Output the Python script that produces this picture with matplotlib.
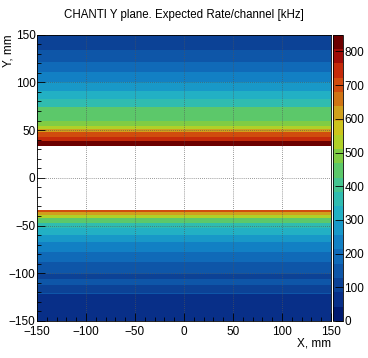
import numpy as np
import matplotlib
matplotlib.use("Agg")
import matplotlib.pyplot as plt
from matplotlib.colors import ListedColormap, BoundaryNorm

plt.rcParams['font.family'] = ['Liberation Sans', 'DejaVu Sans']

# bin edges along Y (mm) and expected rate per channel (kHz); NaN = no channels
y_edges = [-150, -121.4, -120.6, -112.6, -105.6, -100.3, -88.0, -86.2, -77.4, -66.8,
           -59.8, -52.8, -47.5, -42.2, -38.6, -36.3, -33.4,
           33.3, 38.6, 42.2, 47.5, 50.9, 54.4, 59.7, 73.8, 82.6, 91.4, 100.2,
           110.7, 121.3, 133.5, 150]
rates = [70, 140, 110, 140, 110, 150, 200, 180, 230, 270,
         320, 380, 460, 540, 620, 720, np.nan,
         830, 760, 700, 620, 540, 500, 440, 360, 320, 280, 240,
         200, 160, 110]
x_edges = [-150, 150]

palette = ['#001a70', '#082f88', '#0c4296', '#0e56a8', '#106ab8', '#1280c4',
           '#1898c8', '#22b0c4', '#30bcb0', '#44c490', '#5cc86a', '#80cc44',
           '#b0d028', '#ccc41c', '#d0a01c', '#d07414', '#d04c0e', '#c42a0a',
           '#a00c08', '#6c0000']
zmax = 850

Z = np.array(rates, dtype=float).reshape(-1, 1)
cmap = ListedColormap(palette)
cmap.set_bad('white')
levels = np.linspace(0, zmax, len(palette) + 1)
norm = BoundaryNorm(levels, cmap.N)

fig = plt.figure(figsize=(3.68, 3.58), dpi=100)
ax = fig.add_axes([0.1005, 0.1034, 0.799, 0.8])
cax = fig.add_axes([0.905, 0.1034, 0.027, 0.8])

mesh = ax.pcolormesh(x_edges, y_edges, np.ma.masked_invalid(Z), cmap=cmap, norm=norm)
ax.set_xlim(-150, 150)
ax.set_ylim(-150, 150)
ax.set_xticks(np.arange(-150, 151, 50))
ax.set_yticks(np.arange(-150, 151, 50))
ax.set_xticks(np.arange(-150, 151, 10), minor=True)
ax.set_yticks(np.arange(-150, 151, 10), minor=True)
ax.tick_params(which='both', direction='in', labelsize=8.5, top=False, right=False)
ax.tick_params(which='major', length=6, width=0.6)
ax.tick_params(which='minor', length=3, width=0.6)
ax.tick_params(axis='x', pad=3.5)
ax.tick_params(axis='y', pad=1)
ax.grid(True, which='major', linestyle=(0, (1, 1.5)), color='#555555', linewidth=0.6, alpha=0.8)
for s in ax.spines.values():
    s.set_linewidth(0.6)
ax.set_xlabel('X, mm', fontsize=8.5, loc='right', labelpad=0)
ax.set_ylabel('Y, mm', fontsize=8.5, ha='right')
ax.yaxis.set_label_coords(-0.075, 1.0)

cb = fig.colorbar(mesh, cax=cax, ticks=np.arange(0, 801, 100))
cb.outline.set_linewidth(0.6)
cax.set_ylim(0, zmax)
cax.tick_params(direction='in', length=6, width=0.6, labelsize=8.5, pad=1)
cax.yaxis.set_minor_locator(matplotlib.ticker.NullLocator())

fig.suptitle('CHANTI Y plane. Expected Rate/channel [kHz]', fontsize=8.3, y=0.975)

fig.savefig('out.png', dpi=100)
